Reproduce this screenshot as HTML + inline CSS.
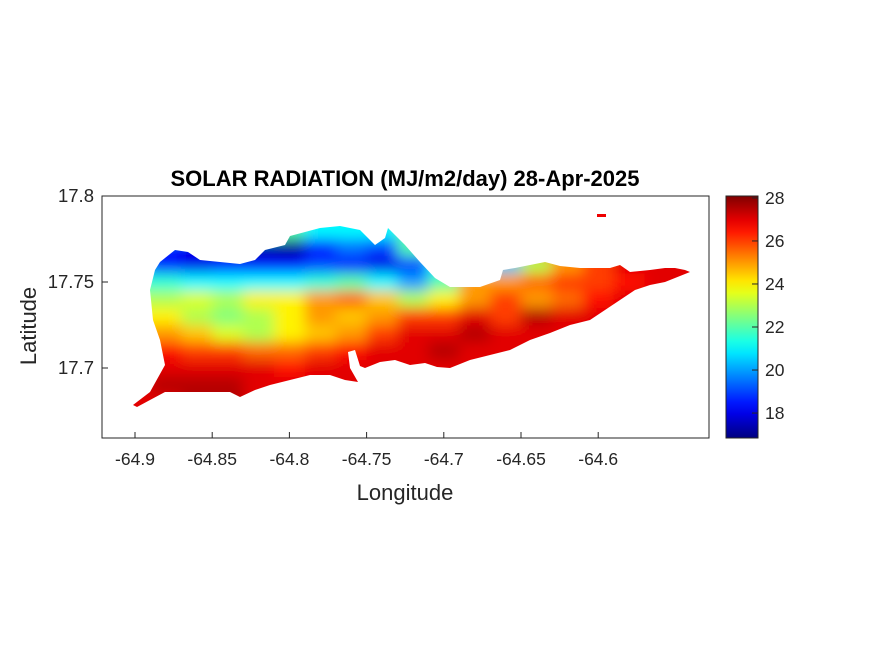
<!DOCTYPE html>
<html><head><meta charset="utf-8"><style>
html,body{margin:0;padding:0;background:#fff;}
svg{display:block;font-family:"Liberation Sans",Arial,sans-serif;}
</style></head><body>
<svg id="chart" width="875" height="656" viewBox="0 0 875 656" xmlns="http://www.w3.org/2000/svg">
<defs>
<filter id="blur" filterUnits="userSpaceOnUse" x="0" y="150" width="875" height="320"><feGaussianBlur stdDeviation="7" edgeMode="duplicate"/></filter>
<clipPath id="island"><path id="islandPath" d="M133,405 L150,392 L165,365 L160,340 L153,320 L150,290 L155,270 L160,262 L175,250 L188,252 L200,260 L220,262 L240,264 L255,260 L265,250 L285,245 L290,236 L320,228 L340,226 L360,230 L370,240 L375,245 L385,238 L388,228 L395,235 L405,245 L420,262 L435,278 L450,287 L480,287 L500,280 L503,270 L515,268 L530,265 L545,262 L560,266 L580,268 L610,268 L620,265 L630,272 L650,270 L665,268 L675,268 L685,270 L690,272 L680,276 L665,282 L650,285 L635,290 L620,300 L605,310 L590,320 L570,325 L550,333 L530,340 L510,350 L490,355 L470,360 L450,368 L437,367 L425,363 L410,365 L395,360 L380,362 L365,368 L360,366 L355,350 L348,352 L350,368 L358,382 L345,380 L330,375 L310,375 L290,380 L270,385 L255,390 L240,397 L230,392 L200,392 L180,392 L165,392 L150,400 L137,407 Z"/></clipPath>
<linearGradient id="jetGrad" x1="0" y1="1" x2="0" y2="0"></linearGradient>
</defs>
<g id="mapClip" clip-path="url(#island)"><g id="cells" filter="url(#blur)"></g></g>
<rect x="597" y="214" width="9" height="3" fill="#e00"/>
<rect x="102" y="196" width="607" height="242" fill="none" stroke="#262626" stroke-width="1"/>
<g id="xticks"></g><g id="yticks"></g>
<text x="405" y="186" text-anchor="middle" font-size="22" font-weight="bold" fill="#000">SOLAR RADIATION (MJ/m2/day) 28-Apr-2025</text>
<text x="405" y="500" text-anchor="middle" font-size="22" fill="#262626">Longitude</text>
<text transform="translate(36,326) rotate(-90)" text-anchor="middle" font-size="22" fill="#262626">Latitude</text>
<rect x="726" y="196" width="32" height="242" fill="url(#jetGrad)" stroke="#262626" stroke-width="1"/>
<g id="cbticks"></g>
</svg>
<script>
const lonValues=[-64.90,-64.88,-64.86,-64.84,-64.82,-64.80,-64.78,-64.76,-64.74,-64.72,-64.70,-64.68,-64.66,-64.64,-64.62,-64.60,-64.58,-64.56,-64.54];
const latValues=[17.78,17.77,17.76,17.75,17.74,17.73,17.72,17.71,17.70,17.69,17.68];
const row0=[21,21,20,20,21,22,21,21,21,22,23,24,25,26,26,26,27,27,27];
const row1=[19.5,18.5,18,18,17.2,17,18.5,19.5,19,22,23,24,25,26,26,26,27,27,27];
const row2=[19.5,18.5,18,18.5,18.5,18.5,19,18.5,18,19,21,22,20.5,23,25,26,27,27,27];
const row3=[21.5,21.5,21,21,21,21,21.5,22,21,20,22,25,25,25.5,26,26,26.5,27,27];
const row4=[23,23,23.5,23,24,24,25,25.5,24.5,23,24,25,26,25,25.5,26.5,27,27,27];
const row5=[24,24,23,22.5,23,24,25,24.5,25,26,26,27,26,27.5,27,27,27,27,27];
const row6=[25,25,24.5,23.5,23,24,24.5,25,26,27,27,27.5,27,27,27,27,27,27,27];
const row7=[26.5,26.5,26,26,25.5,25.5,26,26.5,27,27,27.5,27,27,27,27,27,27,27,27];
const row8=[27,27,27,27,27,26.5,27,27,27,27,27,27,27,27,27,27,27,27,27];
const row9=[27,27.5,27.5,27.5,27,27,27,27,27,27,27,27,27,27,27,27,27,27,27];
const row10=[27,27,27.5,27.5,27,27,27,27,27,27,27,27,27,27,27,27,27,27,27];
const radiation=[row0,row1,row2,row3,row4,row5,row6,row7,row8,row9,row10];
const xTickValues=[-64.9,-64.85,-64.8,-64.75,-64.7,-64.65,-64.6];
const xTickLabels=["-64.9","-64.85","-64.8","-64.75","-64.7","-64.65","-64.6"];
const yTickValues=[17.8,17.75,17.7];
const yTickLabels=["17.8","17.75","17.7"];
const cbTickValues=[18,20,22,24,26,28];
const cbTickLabels=["18","20","22","24","26","28"];
const cMin=16.84, cMax=28.09;

const NS="http://www.w3.org/2000/svg";
const xScale=v=>135+(v+64.9)*1544;
const yScale=v=>368-(v-17.7)*1720;
const cScale=v=>438-(v-cMin)/(cMax-cMin)*242;
function jet(t){const c=x=>Math.round(255*Math.max(0,Math.min(1,x)));return `rgb(${c(1.5-Math.abs(4*t-3))},${c(1.5-Math.abs(4*t-2))},${c(1.5-Math.abs(4*t-1))})`;}
function mk(tag,attrs,parent){const e=document.createElementNS(NS,tag);for(const k in attrs)e.setAttribute(k,attrs[k]);parent.appendChild(e);return e;}

const cells=document.getElementById('cells');
const cw=Math.abs(xScale(lonValues[1])-xScale(lonValues[0]));
const ch=Math.abs(yScale(latValues[1])-yScale(latValues[0]));
radiation.forEach((row,i)=>row.forEach((v,j)=>{
  const r=mk('rect',{x:xScale(lonValues[j])-cw/2-(j==0?40:0),y:yScale(latValues[i])-ch/2-(i==0?40:0),width:cw+(j==0?40:0)+(j==row.length-1?40:0)+0.5,height:ch+(i==0?40:0)+(i==radiation.length-1?40:0)+0.5,fill:jet((v-cMin)/(cMax-cMin))},cells);
  
  
}));

const xt=document.getElementById('xticks');
xTickValues.forEach((v,i)=>{const x=xScale(v);
  const l=mk('line',{x1:x,x2:x,y1:438,y2:432,stroke:'#262626'},xt);
  
  
  const t=mk('text',{x:x,y:465,'text-anchor':'middle','font-size':17.5,fill:'#262626'},xt);t.textContent=xTickLabels[i];
  
  
});
const yt=document.getElementById('yticks');
yTickValues.forEach((v,i)=>{const y=yScale(v);
  const l=mk('line',{x1:102,x2:108,y1:y,y2:y,stroke:'#262626'},yt);
  
  
  const t=mk('text',{x:94,y:y+6,'text-anchor':'end','font-size':18.5,fill:'#262626'},yt);t.textContent=yTickLabels[i];
  
  
});
const g=document.getElementById('jetGrad');
for(let k=0;k<=20;k++){mk('stop',{offset:(k/20),'stop-color':jet(k/20)},g);}
const cb=document.getElementById('cbticks');
cbTickValues.forEach((v,i)=>{const y=cScale(v);
  const l=mk('line',{x1:752,x2:758,y1:y,y2:y,stroke:'#262626'},cb);
  
  
  const t=mk('text',{x:765,y:y+6,'font-size':17.5,fill:'#262626'},cb);t.textContent=cbTickLabels[i];
  
  
});
</script>
</body></html>
